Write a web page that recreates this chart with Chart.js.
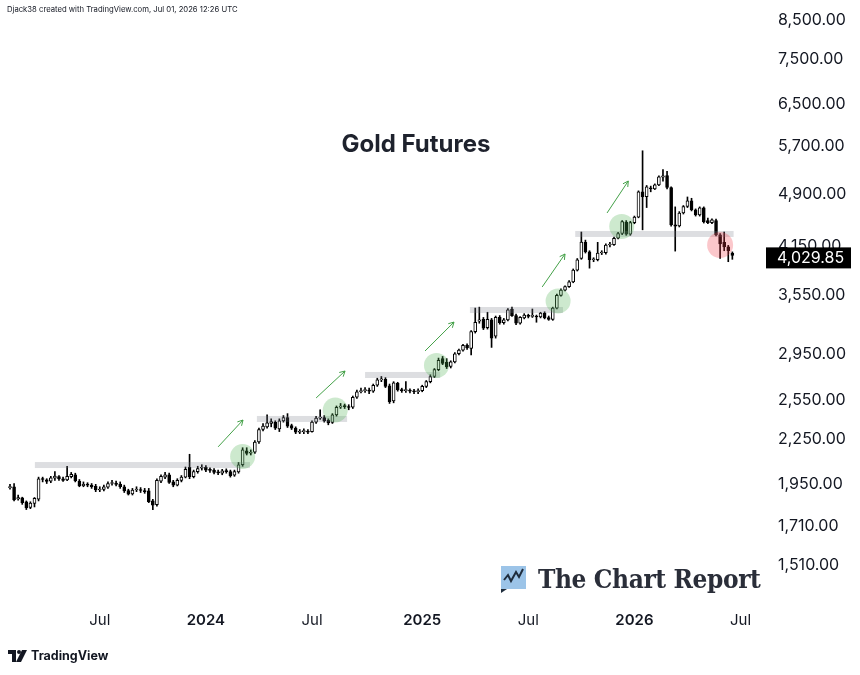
<!DOCTYPE html>
<html>
<head>
<meta charset="utf-8">
<script src="https://cdn.jsdelivr.net/npm/chart.js@4.4.1/dist/chart.umd.min.js"></script>
<style>
  html, body { margin: 0; padding: 0; background: #fff; }
  #wrap { position: relative; width: 860px; height: 675px; overflow: hidden; font-family: Inter, "Noto Sans", sans-serif; color: #131722; }
  #chartBox { position: absolute; left: 0; top: 0; width: 860px; height: 675px; }
  .credit { position: absolute; left: 7px; top: 5px; font-size: 7.7px; color: #131722; white-space: nowrap; }
  .title { position: absolute; left: 0; width: 832px; top: 129px; text-align: center; font-size: 24px; font-weight: 700; color: #1e222d; }
  .tv { position: absolute; left: 8px; top: 648px; display: flex; align-items: center; gap: 4px; font-size: 12.5px; font-weight: 700; color: #131722; }
  .tcr { position: absolute; left: 501px; top: 564px; display: flex; align-items: center; gap: 12px; }
  .tcr span { font-family: "DejaVu Serif", "Liberation Serif", serif; font-weight: 700; font-size: 26px; color: #2a2e39; font-stretch: condensed; letter-spacing: -0.4px; }
</style>
</head>
<body>
<div id="wrap">
  <div id="chartBox"><canvas id="goldChart"></canvas></div>
  <div class="credit">Djack38 created with TradingView.com, Jul 01, 2026 12:26 UTC</div>
  <div class="title">Gold Futures</div>
  <div class="tcr">
    <svg width="25" height="27" viewBox="0 0 25 27">
      <rect x="0" y="0" width="25" height="23" fill="#9cc4e8"/>
      <polygon points="0,23 0,27 6,23" fill="#1f2d3d"/>
      <polyline points="3,14 7,9 10,15 15,6 18,11 22,3" fill="none" stroke="#1f2d3d" stroke-width="2"/>
    </svg>
    <span>The Chart Report</span>
  </div>
  <div class="tv">
    <svg width="19" height="12" viewBox="0 0 19 12">
      <path d="M0 0 H8 V12 H4 V4 H0 Z" fill="#131722"/>
      <circle cx="11" cy="2" r="2" fill="#131722"/>
      <path d="M14 0 H19 L13 12 H8 Z" fill="#131722"/>
    </svg>
    <span>TradingView</span>
  </div>
</div>
<script>
// weekly candles, first bar = week of 2023-01-30
const firstWeek = '2023-01-30';

const opens = [
  1930, 1935, 1862, 1868, 1845, 1812, 1835, 1860, 1985, 1978,
  1970, 1988, 1998, 1985, 1978, 1998, 2010, 1970, 1942, 1950,
  1945, 1938, 1915, 1918, 1932, 1955, 1958, 1952, 1935, 1912,
  1892, 1915, 1918, 1912, 1910, 1850, 1828, 1970, 1995, 2010,
  1965, 1945, 1975, 1995, 2058, 1998, 2030, 2052, 2058, 2040,
  2040, 2025, 2020, 2035, 2030, 2008, 2028, 2075, 2168, 2152,
  2160, 2230, 2320, 2340, 2365, 2375, 2325, 2385, 2410, 2350,
  2330, 2300, 2305, 2308, 2305, 2375, 2405, 2410, 2388, 2372,
  2430, 2490, 2500, 2495, 2490, 2570, 2615, 2625, 2628, 2620,
  2670, 2715, 2720, 2665, 2540, 2685, 2630, 2625, 2628, 2620,
  2615, 2625, 2660, 2700, 2745, 2805, 2905, 2870, 2835, 2875,
  2950, 2985, 3030, 3000, 3165, 3270, 3290, 3205, 3285, 3120,
  3310, 3255, 3285, 3400, 3330, 3250, 3305, 3330, 3322, 3325,
  3315, 3355, 3308, 3290, 3410, 3550, 3610, 3650, 3705, 3845,
  3990, 4200, 4075, 3975, 3975, 4060, 4065, 4165, 4170, 4255,
  4320, 4480, 4310, 4470, 4550, 4930, 4855, 4990, 4975, 5040,
  5165, 5190, 4995, 4440, 4425, 4610, 4705, 4790, 4655, 4580,
  4685, 4500, 4470, 4500, 4300, 4200, 4140, 4060
];
const highs = [
  1950, 1955, 1885, 1872, 1850, 1845, 1870, 1995, 1995, 1985,
  2000, 2030, 2005, 1995, 2065, 2025, 2020, 1980, 1965, 1960,
  1955, 1950, 1935, 1945, 1965, 1975, 1970, 1965, 1945, 1920,
  1925, 1935, 1930, 1925, 1925, 1860, 1985, 2010, 2025, 2020,
  1975, 1985, 2005, 2060, 2145, 2040, 2065, 2075, 2070, 2055,
  2050, 2040, 2045, 2048, 2040, 2040, 2090, 2190, 2190, 2175,
  2240, 2330, 2365, 2430, 2400, 2385, 2400, 2425, 2440, 2360,
  2340, 2320, 2325, 2320, 2385, 2420, 2470, 2425, 2400, 2440,
  2500, 2520, 2515, 2510, 2580, 2630, 2645, 2650, 2645, 2680,
  2730, 2745, 2735, 2680, 2700, 2695, 2645, 2700, 2640, 2635,
  2640, 2670, 2710, 2760, 2815, 2910, 2925, 2905, 2885, 2960,
  2995, 3040, 3045, 3175, 3410, 3420, 3310, 3365, 3300, 3325,
  3330, 3300, 3405, 3420, 3345, 3320, 3350, 3345, 3400, 3335,
  3365, 3370, 3325, 3420, 3565, 3625, 3660, 3720, 3860, 3990,
  4340, 4230, 4090, 4000, 4200, 4090, 4180, 4200, 4270, 4335,
  4500, 4500, 4490, 4565, 4945, 5615, 5030, 5020, 5055, 5185,
  5290, 5260, 5010, 4700, 4630, 4720, 4850, 4830, 4670, 4700,
  4700, 4535, 4525, 4520, 4320, 4340, 4160, 4075
];
const lows = [
  1920, 1850, 1855, 1830, 1800, 1805, 1815, 1850, 1965, 1955,
  1960, 1975, 1975, 1968, 1972, 1990, 1965, 1935, 1935, 1935,
  1925, 1905, 1905, 1910, 1925, 1945, 1940, 1925, 1900, 1885,
  1885, 1905, 1900, 1895, 1840, 1800, 1820, 1960, 1985, 1955,
  1935, 1940, 1965, 1990, 1985, 1990, 2020, 2040, 2030, 2025,
  2015, 2010, 2010, 2020, 1995, 2000, 2020, 2065, 2140, 2140,
  2150, 2220, 2310, 2330, 2340, 2320, 2305, 2375, 2335, 2320,
  2290, 2290, 2290, 2290, 2300, 2365, 2395, 2375, 2355, 2365,
  2420, 2480, 2480, 2470, 2480, 2560, 2605, 2610, 2600, 2610,
  2660, 2700, 2650, 2520, 2525, 2620, 2610, 2610, 2605, 2600,
  2600, 2615, 2650, 2690, 2735, 2795, 2850, 2815, 2820, 2865,
  2940, 2975, 2990, 2940, 3150, 3250, 3185, 3190, 3010, 3100,
  3240, 3240, 3275, 3320, 3235, 3240, 3295, 3305, 3310, 3260,
  3305, 3295, 3280, 3280, 3400, 3540, 3600, 3640, 3695, 3835,
  3980, 4060, 3870, 3950, 3960, 4040, 4045, 4140, 4160, 4245,
  4305, 4295, 4295, 4455, 4540, 4370, 4690, 4930, 4965, 5025,
  5100, 4975, 4420, 4085, 4410, 4595, 4690, 4640, 4565, 4565,
  4465, 4455, 4455, 4285, 3990, 4090, 3950, 3980
];
const closes = [
  1935, 1856, 1870, 1840, 1810, 1838, 1865, 1985, 1980, 1968,
  1990, 2002, 1983, 1975, 2000, 2012, 1972, 1940, 1950, 1945,
  1935, 1915, 1920, 1935, 1955, 1958, 1950, 1935, 1910, 1890,
  1915, 1918, 1912, 1905, 1845, 1825, 1975, 2000, 2010, 1962,
  1945, 1975, 1995, 2045, 1998, 2030, 2050, 2058, 2040, 2038,
  2025, 2022, 2035, 2030, 2005, 2030, 2075, 2175, 2150, 2158,
  2230, 2320, 2345, 2370, 2380, 2330, 2385, 2410, 2345, 2330,
  2300, 2305, 2310, 2300, 2375, 2405, 2410, 2385, 2370, 2430,
  2490, 2500, 2495, 2488, 2570, 2615, 2625, 2630, 2620, 2670,
  2715, 2720, 2660, 2535, 2690, 2630, 2625, 2630, 2620, 2615,
  2625, 2660, 2700, 2745, 2805, 2890, 2860, 2830, 2875, 2950,
  2985, 3030, 3005, 3165, 3260, 3285, 3200, 3290, 3100, 3310,
  3255, 3285, 3390, 3330, 3250, 3310, 3335, 3322, 3328, 3315,
  3355, 3305, 3290, 3410, 3550, 3610, 3650, 3705, 3845, 3975,
  4205, 4075, 3975, 3980, 4060, 4070, 4165, 4175, 4255, 4320,
  4485, 4310, 4470, 4550, 4930, 4850, 5010, 4975, 5040, 5170,
  5185, 5000, 4440, 4420, 4610, 4705, 4790, 4655, 4580, 4685,
  4480, 4470, 4510, 4300, 4180, 4140, 4090, 4029.85
];

// axis ticks
const yTicks = [1510, 1710, 1950, 2250, 2550, 2950, 3550, 4150, 4900, 5700, 6500, 7500, 8500];
const xTickWeeks = ['2023-07-03', '2024-01-01', '2024-07-01', '2025-01-06', '2025-07-07', '2026-01-05', '2026-07-06'];
const xTickLabels = ['Jul', '2024', 'Jul', '2025', 'Jul', '2026', 'Jul'];

// drawings: support levels, breakout circles, trend arrows (week index, price)
const levelPrices = [2073, 2399, 2758, 3389, 4313];
const levelFrom = [6.1, 60.5, 87, 112.7, 138.5];
const levelTo = [58.8, 82.6, 105.4, 135.5, 177.3];
const circleWeeks = [57.0, 79.7, 104.5, 134.3, 149.9];
const circlePrices = [2130, 2468, 2843, 3487, 4417];
const exitWeek = 174, exitPrice = 4165;
const arrowFrom = [[51.0, 2196], [75.0, 2564], [101.7, 2976], [130.4, 3646], [146.3, 4610]];
const arrowTo = [[57.1, 2391], [82.1, 2793], [108.8, 3262], [136.0, 4048], [151.5, 5102]];

function weekIndex(d) {
  return Math.round((Date.parse(d) - Date.parse(firstWeek)) / (7 * 864e5));
}
const xTickIdx = xTickWeeks.map(weekIndex);

const bodies = closes.map((c, i) => ({ x: i, y: [opens[i], c] }));
const wicks = closes.map((c, i) => ({ x: i, y: [lows[i], highs[i]] }));
const fmt = v => v.toLocaleString('en-US', { minimumFractionDigits: 2, maximumFractionDigits: 2 });

const drawings = {
  id: 'drawings',
  afterDatasetsDraw(chart) {
    const { ctx, chartArea, scales: { x, y } } = chart;
    ctx.save();
    ctx.beginPath();
    ctx.rect(chartArea.left, chartArea.top, chartArea.width, chartArea.height);
    ctx.clip();
    // levels
    ctx.fillStyle = 'rgba(120,123,134,0.25)';
    levelPrices.forEach((p, i) => {
      const py = y.getPixelForValue(p);
      const x1 = x.getPixelForValue(levelFrom[i]);
      const x2 = x.getPixelForValue(levelTo[i]);
      ctx.fillRect(x1, py - 3, x2 - x1, 6);
    });
    // circles
    ctx.fillStyle = 'rgba(76,175,80,0.28)';
    circleWeeks.forEach((w, i) => {
      ctx.beginPath();
      ctx.arc(x.getPixelForValue(w), y.getPixelForValue(circlePrices[i]), 12.5, 0, Math.PI * 2);
      ctx.fill();
    });
    ctx.fillStyle = 'rgba(242,54,69,0.28)';
    ctx.beginPath();
    ctx.arc(x.getPixelForValue(exitWeek), y.getPixelForValue(exitPrice), 13, 0, Math.PI * 2);
    ctx.fill();
    // arrows
    ctx.strokeStyle = '#43a047';
    ctx.lineWidth = 1;
    arrowFrom.forEach((a, i) => {
      const x1 = x.getPixelForValue(a[0]), y1 = y.getPixelForValue(a[1]);
      const x2 = x.getPixelForValue(arrowTo[i][0]), y2 = y.getPixelForValue(arrowTo[i][1]);
      const ang = Math.atan2(y2 - y1, x2 - x1);
      ctx.beginPath();
      ctx.moveTo(x1, y1);
      ctx.lineTo(x2, y2);
      ctx.moveTo(x2 - 6 * Math.cos(ang - 0.5), y2 - 6 * Math.sin(ang - 0.5));
      ctx.lineTo(x2, y2);
      ctx.lineTo(x2 - 6 * Math.cos(ang + 0.5), y2 - 6 * Math.sin(ang + 0.5));
      ctx.stroke();
    });
    ctx.restore();
  }
};

const priceTag = {
  id: 'priceTag',
  afterDraw(chart) {
    const { ctx, scales: { y } } = chart;
    const last = closes[closes.length - 1];
    const py = y.getPixelForValue(last) + 2;
    ctx.save();
    ctx.fillStyle = '#000';
    ctx.fillRect(y.left + 1, py - 10, 85, 21);
    ctx.fillStyle = '#fff';
    ctx.font = '16px Inter';
    ctx.textBaseline = 'middle';
    ctx.fillText(fmt(last), y.left + 12, py + 1);
    ctx.restore();
  }
};

new Chart(document.getElementById('goldChart'), {
  type: 'bar',
  data: {
    datasets: [
      {
        label: 'body',
        data: bodies,
        grouped: false,
        order: 0,
        barThickness: 3,
        minBarLength: 1,
        borderWidth: 1,
        borderSkipped: false,
        borderColor: '#000',
        backgroundColor: closes.map((c, i) => c >= opens[i] ? '#fff' : '#000')
      },
      {
        label: 'wick',
        data: wicks,
        grouped: false,
        order: 1,
        barThickness: 1,
        backgroundColor: '#000'
      }
    ]
  },
  options: {
    responsive: true,
    maintainAspectRatio: false,
    animation: false,
    layout: { padding: { top: 0, left: 0, right: 0, bottom: 35 } },
    plugins: { legend: { display: false }, tooltip: { enabled: false } },
    scales: {
      x: {
        type: 'linear',
        offset: false,
        min: -2.45,
        max: 185,
        grid: { display: false, drawTicks: false },
        border: { display: false },
        afterBuildTicks: s => { s.ticks = xTickIdx.map(v => ({ value: v })); },
        afterFit: s => { s.height = 35; s.paddingLeft = 0; s.paddingRight = 0; },
        ticks: {
          autoSkip: false,
          maxRotation: 0,
          padding: 6,
          color: '#131722',
          font: c => ({ family: 'Inter', size: 15, weight: /^\d/.test(c.tick && c.tick.label) ? '600' : '400' }),
          callback: v => xTickLabels[xTickIdx.indexOf(v)]
        }
      },
      y: {
        type: 'logarithmic',
        position: 'right',
        min: 1330,
        max: 9057,
        grid: { display: false, drawTicks: false },
        border: { display: false },
        afterBuildTicks: s => { s.ticks = yTicks.map(v => ({ value: v })); },
        afterFit: s => { s.width = 95; s.paddingTop = 0; s.paddingBottom = 0; },
        ticks: {
          autoSkip: false,
          padding: 13,
          color: '#131722',
          font: { family: 'Inter', size: 16 },
          callback: v => fmt(v)
        }
      }
    }
  },
  plugins: [drawings, priceTag]
});
</script>
</body>
</html>
